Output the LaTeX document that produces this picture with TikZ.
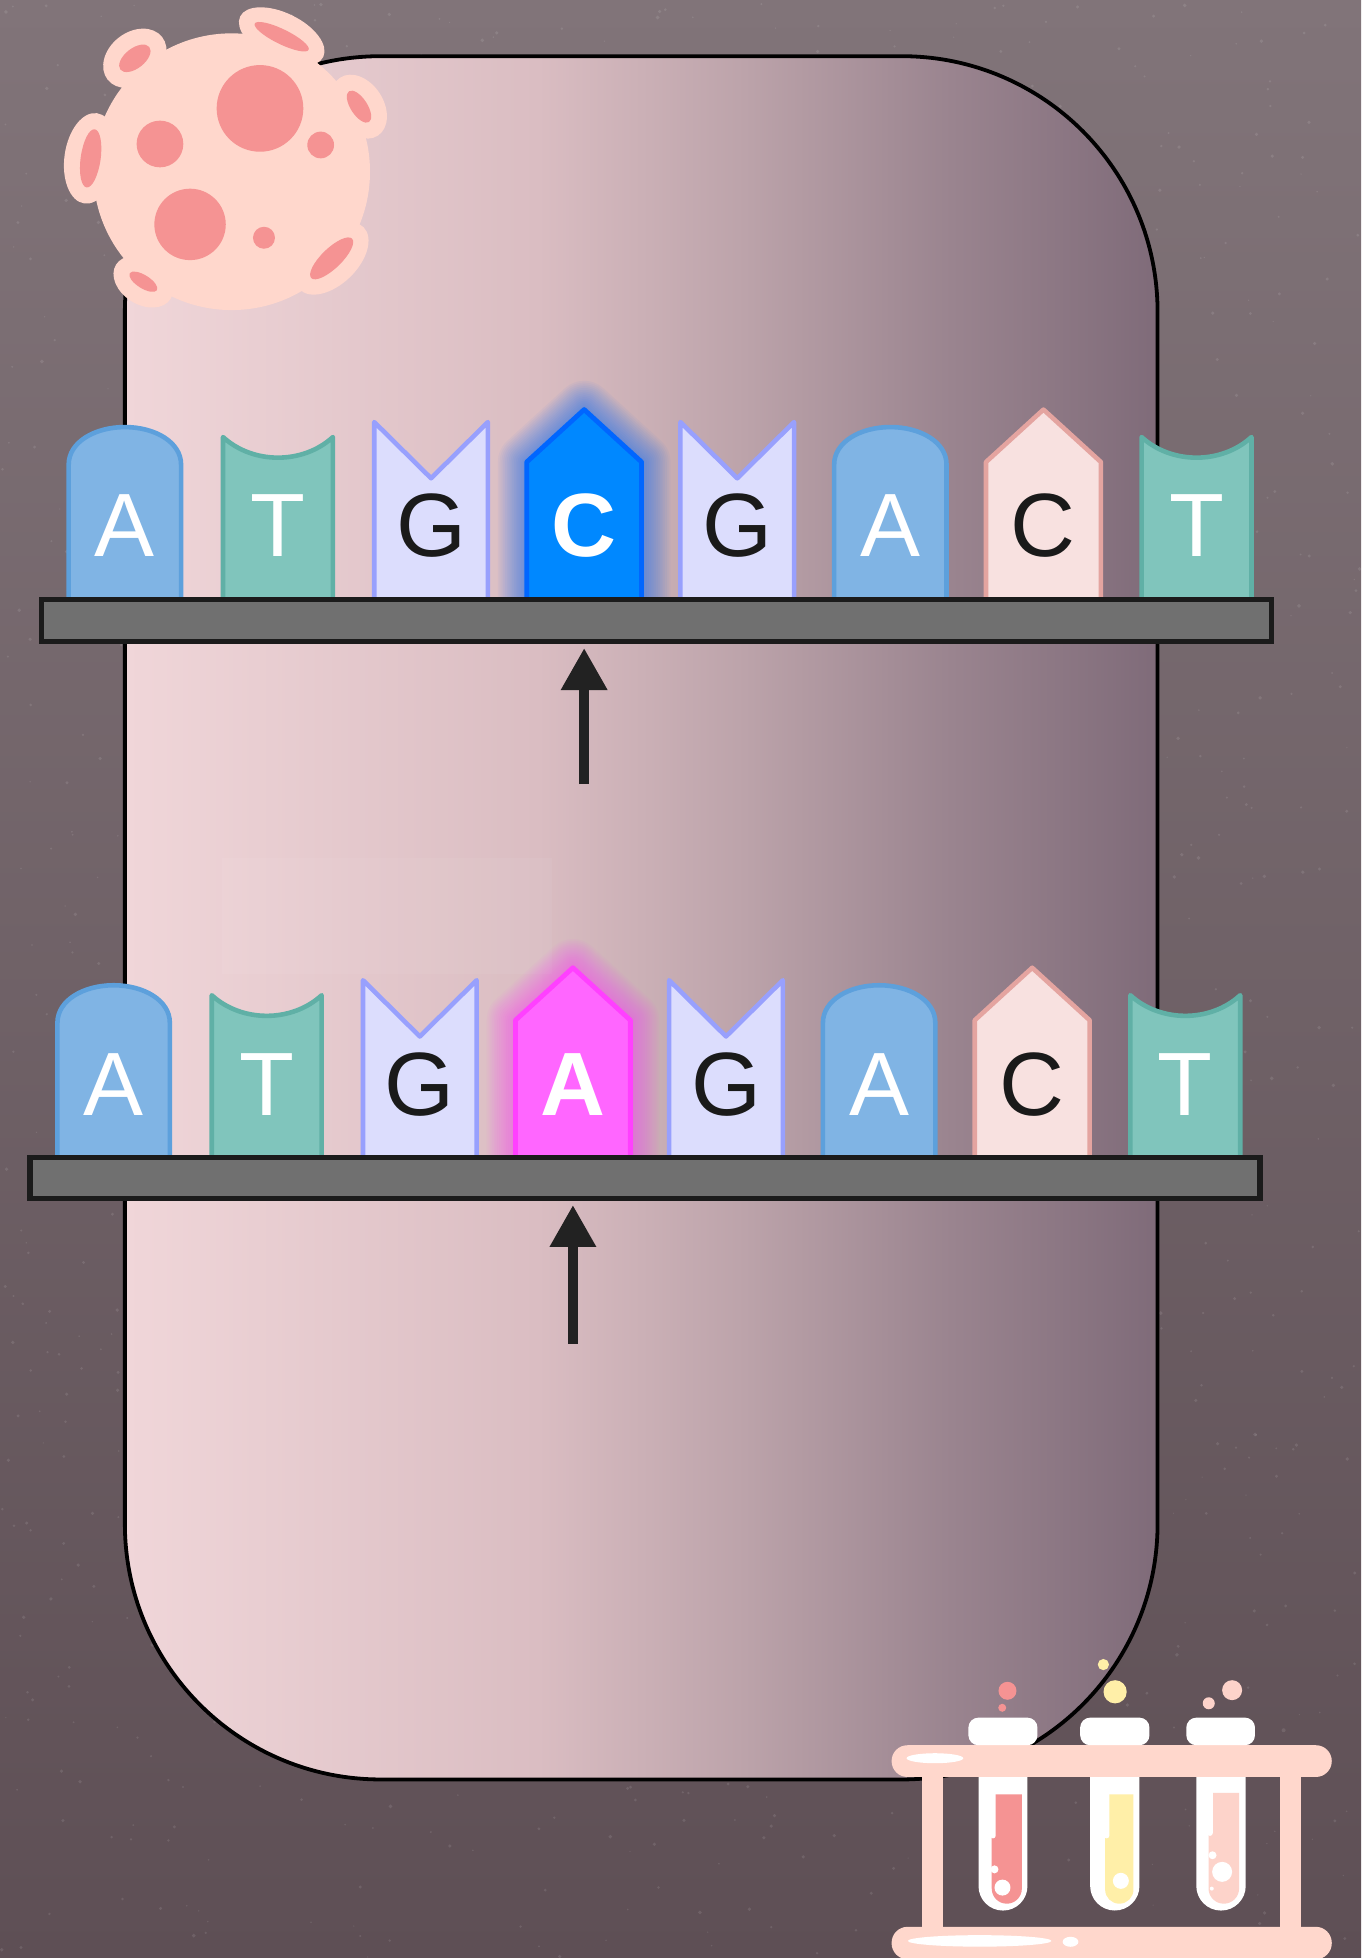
\documentclass[tikz,border=0pt]{standalone}
\usepackage{fontspec}
\setmainfont{Liberation Sans}
\usetikzlibrary{arrows.meta}

\definecolor{chalkTop}{HTML}{817479}
\definecolor{chalkBot}{HTML}{5E4F55}
\definecolor{panelA}{HTML}{F0D6D9}
\definecolor{panelB}{HTML}{DABDC2}
\definecolor{panelC}{HTML}{BCA3AA}
\definecolor{panelE}{HTML}{9A848F}
\definecolor{panelD}{HTML}{7F6B79}
\definecolor{adeFill}{HTML}{80B4E4}
\definecolor{adeLine}{HTML}{5DA0DC}
\definecolor{thyFill}{HTML}{80C5BC}
\definecolor{thyLine}{HTML}{60B0A6}
\definecolor{guaFill}{HTML}{DCDDFD}
\definecolor{guaLine}{HTML}{98A0FD}
\definecolor{cytFill}{HTML}{F8E1E0}
\definecolor{cytLine}{HTML}{E4A4A0}
\definecolor{hiBlueFill}{HTML}{0088FF}
\definecolor{hiBlueLine}{HTML}{0066FF}
\definecolor{hiPinkFill}{HTML}{FF66FF}
\definecolor{hiPinkLine}{HTML}{FF40FF}
\definecolor{shelfFill}{HTML}{707070}
\definecolor{shelfLine}{HTML}{1B1B1B}
\definecolor{arrowInk}{HTML}{222222}
\definecolor{inkDark}{HTML}{1A1A1A}
\definecolor{peach}{HTML}{FFD7CC}
\definecolor{spot}{HTML}{F59393}
\definecolor{tubeYellow}{HTML}{FFEFA8}
\definecolor{tubePink}{HTML}{FDD3CA}

% horizontal fade of the central panel (25bp..75bp spans the panel width)
\pgfdeclarehorizontalshading{panelshade}{100bp}{color(0bp)=(panelA); color(25bp)=(panelA); color(45bp)=(panelB); color(55bp)=(panelC); color(65bp)=(panelE); color(75bp)=(panelD); color(100bp)=(panelD)}

\tikzset{
  % nucleotide outlines, origin at the bottom centre
  pics/dome/.style={code={\path[#1] (-45,0) -- (-45,-108) .. controls (-45,-126) and (-24,-138) .. (0,-138) .. controls (24,-138) and (45,-126) .. (45,-108) -- (45,0);}},
  pics/cup/.style={code={\path[#1] (-44,0) -- (-44,-130) .. controls (-20,-108) and (20,-108) .. (44,-130) -- (44,0);}},
  pics/notch/.style={code={\path[#1] (-45.5,0) -- (-45.5,-142) -- (0,-97) -- (45.5,-142) -- (45.5,0);}},
  pics/house/.style={code={\path[#1] (-46,0) -- (-46,-110) -- (0,-152) -- (46,-110) -- (46,0);}},
  pics/halo/.style={code={\foreach \w in {1,...,16}{\path[draw=#1, line width=\w*1.8pt, draw opacity=0.04, line join=round] (-46,0) -- (-46,-110) -- (0,-152) -- (46,-110) -- (46,0) -- cycle;}}},
  abase/.style={fill=adeFill, draw=adeLine, line width=2.3pt, line join=round},
  tbase/.style={fill=thyFill, draw=thyLine, line width=2.3pt, line join=round},
  gbase/.style={fill=guaFill, draw=guaLine, line width=2.3pt, line join=round},
  cbase/.style={fill=cytFill, draw=cytLine, line width=2.3pt, line join=round},
  hiblue/.style={fill=hiBlueFill, draw=hiBlueLine, line width=2.4pt, line join=round},
  hipink/.style={fill=hiPinkFill, draw=hiPinkLine, line width=2.4pt, line join=round},
  lettW/.style={font=\fontsize{45}{45}\selectfont, anchor=base, inner sep=0pt, text=white},
  lettK/.style={font=\fontsize{45}{45}\selectfont, anchor=base, inner sep=0pt, text=inkDark},
  lettB/.style={font=\fontsize{45}{45}\selectfont\bfseries, anchor=base, inner sep=0pt, text=white},
  shelfbar/.style={fill=shelfFill, draw=shelfLine, line width=2.6pt},
  pointer/.style={draw=arrowInk, line width=5pt, -{Triangle[width=22pt,length=21pt]}},
}

\begin{document}
\begin{tikzpicture}[x=0.625pt, y=-0.625pt]
\useasboundingbox (0,0) rectangle (1090,1568);

% chalkboard backdrop with faint specks
\shade[top color=chalkTop, bottom color=chalkBot] (0,0) rectangle (1090,1568);
\pgfmathsetseed{11}
\foreach \k in {1,...,1400}
  \fill[white, opacity=0.10] ({rnd*1090},{rnd*1568}) circle[radius={0.5+rnd*1.1}];

% central rounded panel
\shadedraw[shading=panelshade, draw=black, line width=1.9pt, rounded corners=128pt] (100,45) rectangle (927,1425);
\fill[white, opacity=0.05] (178,687) rectangle (442,780);

% ---- virus particle ----
\foreach \cx/\cy/\rx/\ry/\rot in {225.6/29.4/37/19/-26, 108/46.7/27.7/21/38, 72.6/126.8/21/36.5/-8, 287.5/85.4/19.7/27.7/33, 114.8/225.6/25.8/18.3/-32, 265.6/206.9/35.7/21/44}
  \fill[peach, shift={(\cx,\cy)}, rotate=\rot] (0,0) ellipse[x radius=\rx, y radius=\ry];
\fill[peach] (185.5,137.5) circle[radius=110.8];
\foreach \cx/\cy/\rx/\ry/\rot in {225.6/29.4/24/6/-26, 108/46.7/14.7/8/38, 72.6/126.8/8/23.5/-8, 287.5/85.4/6.7/14.7/33, 114.8/225.6/12.8/5.3/-32, 265.6/206.9/22.7/8/44}
  \fill[spot, shift={(\cx,\cy)}, rotate=\rot] (0,0) ellipse[x radius=\rx, y radius=\ry];
\foreach \cx/\cy/\r in {208.2/86.8/34.7, 128.1/115.3/18.7, 256.8/116.1/10.7, 152.2/179.7/28.6, 211.4/190.4/8.8}
  \fill[spot] (\cx,\cy) circle[radius=\r];

% ---- upper strand ----
\pic at (467.8,480) {halo=hiBlueLine};
\pic at (100,480)   {dome=abase};
\pic at (222.6,480) {cup=tbase};
\pic at (345.2,480) {notch=gbase};
\pic at (467.8,480) {house=hiblue};
\pic at (590.4,480) {notch=gbase};
\pic at (713,480)   {dome=abase};
\pic at (835.6,480) {house=cbase};
\pic at (958.2,480) {cup=tbase};
\node[lettW] (u1) at (100,446)   {A};
\node[lettW] (u2) at (222.6,446) {T};
\node[lettK] (u3) at (345.2,446) {G};
\node[lettB] (u4) at (467.8,446) {C};
\node[lettK] (u5) at (590.4,446) {G};
\node[lettW] (u6) at (713,446)   {A};
\node[lettK] (u7) at (835.6,446) {C};
\node[lettW] (u8) at (958.2,446) {T};
\path[shelfbar] (33,480) rectangle (1018,514);

\coordinate (tail1) at (467.8,628);
\coordinate (tip1)  at (467.8,519);
\draw[pointer] (tail1) -- (tip1);

% ---- lower strand ----
\pic at (458.8,927) {halo=hiPinkLine};
\pic at (91,927)    {dome=abase};
\pic at (213.6,927) {cup=tbase};
\pic at (336.2,927) {notch=gbase};
\pic at (458.8,927) {house=hipink};
\pic at (581.4,927) {notch=gbase};
\pic at (704,927)   {dome=abase};
\pic at (826.6,927) {house=cbase};
\pic at (949.2,927) {cup=tbase};
\node[lettW] (l1) at (91,893)    {A};
\node[lettW] (l2) at (213.6,893) {T};
\node[lettK] (l3) at (336.2,893) {G};
\node[lettB] (l4) at (458.8,893) {A};
\node[lettK] (l5) at (581.4,893) {G};
\node[lettW] (l6) at (704,893)   {A};
\node[lettK] (l7) at (826.6,893) {C};
\node[lettW] (l8) at (949.2,893) {T};
\path[shelfbar] (24,927) rectangle (1009,960);

\coordinate (tail2) at (458.8,1076);
\coordinate (tip2)  at (458.8,965);
\draw[pointer] (tail2) -- (tip2);

% ---- test-tube rack ----
% tube glass
\fill[white] (783.6,1415) -- (783.6,1510.4) arc[start angle=180, end angle=0, radius=19.6] -- (822.8,1415) -- cycle;
\fill[white] (873,1415) -- (873,1510.2) arc[start angle=180, end angle=0, radius=19.75] -- (912.5,1415) -- cycle;
\fill[white] (958,1415) -- (958,1510.2) arc[start angle=180, end angle=0, radius=19.8] -- (997.6,1415) -- cycle;
% liquids
\fill[spot] (794.2,1437) -- (794.2,1512.45) arc[start angle=180, end angle=0, radius=12.05] -- (818.3,1437) -- cycle;
\fill[tubeYellow] (885,1437) -- (885,1513.15) arc[start angle=180, end angle=0, radius=11.35] -- (907.7,1437) -- cycle;
\fill[tubePink] (967.8,1435.7) -- (967.8,1512.25) arc[start angle=180, end angle=0, radius=12.25] -- (992.3,1435.7) -- cycle;
% drips on the glass
\fill[white] (793,1436) -- (793,1470) arc[start angle=180, end angle=0, radius=2.2] -- (797.4,1436) -- cycle;
\fill[white] (884,1436) -- (884,1470) arc[start angle=180, end angle=0, radius=2.2] -- (888.4,1436) -- cycle;
\fill[white] (966.8,1435) -- (966.8,1468) arc[start angle=180, end angle=0, radius=2.2] -- (971.2,1435) -- cycle;
% bubbles inside
\fill[white] (796.4,1497) circle[radius=3.2];
\fill[white] (802.8,1511.6) circle[radius=6.4];
\fill[white] (897.6,1506.2) circle[radius=6.4];
\fill[white] (971,1485.7) circle[radius=3.2];
\fill[white] (978.7,1499) circle[radius=8];
\fill[white] (970.4,1512.4) circle[radius=1.6];
% rack frame
\fill[peach] (738,1415) rectangle (755,1548);
\fill[peach] (1025,1415) rectangle (1041.7,1548);
\fill[peach, rounded corners=7.9pt] (714,1397.6) rectangle (1066.5,1423);
\fill[peach, rounded corners=8pt] (714,1543) rectangle (1066.5,1569);
\fill[white] (748.7,1408) ellipse[x radius=22.7, y radius=4];
\fill[white] (784.5,1554.3) ellipse[x radius=57.5, y radius=4.6];
\fill[white] (857.3,1555) ellipse[x radius=6.3, y radius=4];
% stoppers
\fill[white, rounded corners=5pt] (775.5,1375.5) rectangle (830.8,1397.6);
\fill[white, rounded corners=5pt] (865,1375.5) rectangle (920.5,1397.6);
\fill[white, rounded corners=5pt] (950,1375.5) rectangle (1005,1397.6);
% rising bubbles
\fill[spot] (806.8,1354) circle[radius=7.2];
\fill[spot] (802.6,1367.6) circle[radius=3.2];
\fill[tubeYellow] (893,1354.8) circle[radius=9.3];
\fill[tubeYellow] (883.6,1333) circle[radius=4.5];
\fill[tubePink] (986.7,1353.5) circle[radius=8];
\fill[tubePink] (968,1364) circle[radius=4.8];
\end{tikzpicture}
\end{document}
